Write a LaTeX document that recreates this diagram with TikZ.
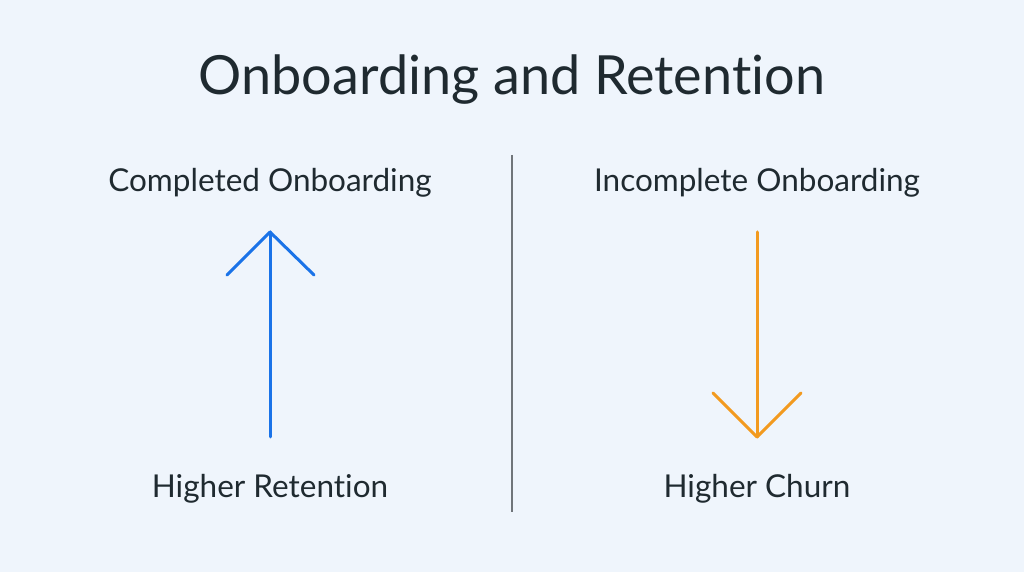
\documentclass[tikz,border=0pt]{standalone}
\usepackage{fontspec}
\setmainfont{Lato}[Ligatures={NoCommon},RawFeature={-liga;-clig;-dlig;-calt}]
\definecolor{bg}{HTML}{EFF5FC}
\definecolor{ink}{HTML}{1F2A30}
\definecolor{upblue}{HTML}{1A73E8}
\definecolor{downorange}{HTML}{F29A1F}
\definecolor{divider}{HTML}{70757A}
\begin{document}
\begin{tikzpicture}[x=1pt,y=1pt,
  title/.style={text=ink,font=\fontsize{54}{58}\selectfont,inner sep=0pt},
  label/.style={text=ink,font=\fontsize{31.5}{34}\selectfont,inner sep=0pt},
  arrowline/.style={line width=3pt,line cap=round,line join=round}]
\fill[bg] (0,0) rectangle (1024,572);
\useasboundingbox (0,0) rectangle (1024,572);
\node[title] (t) at (512,492) {Onboarding and Retention};
\node[label] (cl) at (270,389) {Completed Onboarding};
\node[label] (il) at (757,389) {Incomplete Onboarding};
\node[label] (hr) at (270,83) {Higher Retention};
\node[label] (hc) at (757,83) {Higher Churn};
\coordinate (dtop) at (512,417);
\coordinate (dbot) at (512,60);
\draw[divider,line width=1.2pt] (dtop) -- (dbot);
% up arrow
\coordinate (ubase) at (270,135);
\coordinate (utip) at (270,340);
\coordinate (ul) at (227,297);
\coordinate (ur) at (314,297);
\draw[upblue,arrowline] (ubase) -- (utip);
\draw[upblue,arrowline] (ul) -- (utip) -- (ur);
% down arrow
\coordinate (dstart) at (757,340);
\coordinate (dtip) at (757,135);
\coordinate (dl) at (713,179);
\coordinate (dr) at (801,179);
\draw[downorange,arrowline] (dstart) -- (dtip);
\draw[downorange,arrowline] (dl) -- (dtip) -- (dr);
\end{tikzpicture}
\end{document}
